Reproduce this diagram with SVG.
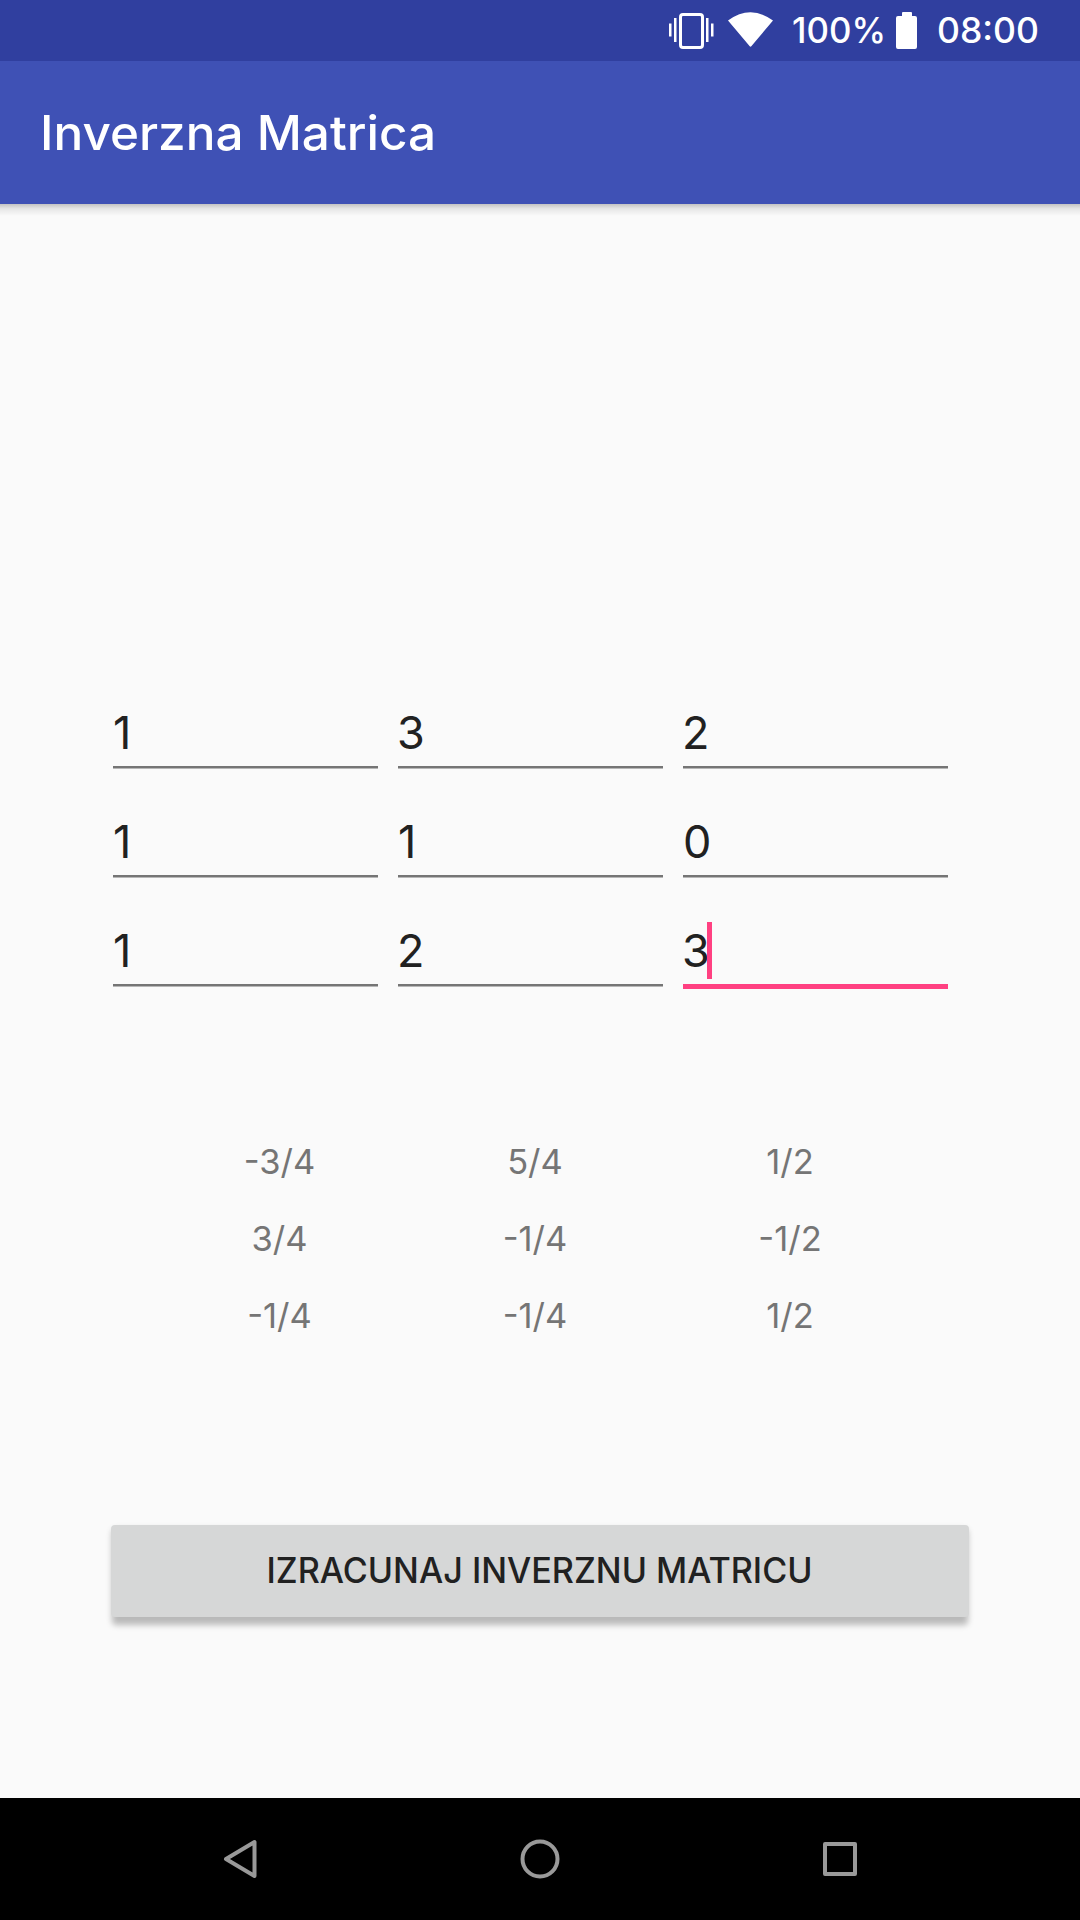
<svg xmlns="http://www.w3.org/2000/svg" width="1080" height="1920" viewBox="0 0 1080 1920">
  <style>
    text { font-family: "Inter", "Roboto", "Liberation Sans", sans-serif; }
    .status { fill: #ffffff; font-size: 35px; font-weight: 500; }
    .title { fill: #ffffff; font-size: 48px; font-weight: 500; }
    .input { fill: #212121; font-size: 45px; }
    .result { fill: #757575; font-size: 34.500px; text-anchor: middle; }
    .btn { fill: #212121; font-size: 35px; font-weight: 500; }
    .line { fill: #757575; }
    .nav { fill: none; stroke: #999999; stroke-width: 4; stroke-linejoin: round; }
  </style>
  <defs>
    <linearGradient id="barShadow" x1="0" y1="0" x2="0" y2="1">
      <stop offset="0" stop-color="#000000" stop-opacity="0.22"/>
      <stop offset="0.4" stop-color="#000000" stop-opacity="0.08"/>
      <stop offset="1" stop-color="#000000" stop-opacity="0"/>
    </linearGradient>
    <filter id="btnShadow" x="-5%" y="-20%" width="110%" height="150%">
      <feGaussianBlur stdDeviation="3"/>
    </filter>
  </defs>

  <rect id="background" width="1080" height="1920" fill="#fafafa"/>

  <g id="app-bar">
    <rect x="0" y="204" width="1080" height="12" fill="url(#barShadow)"/>
    <rect x="0" y="61" width="1080" height="143" fill="#3f51b5"/>
    <text class="title" x="40" y="150" textLength="396" lengthAdjust="spacingAndGlyphs">Inverzna Matrica</text>
  </g>

  <g id="status-bar">
    <rect x="0" y="0" width="1080" height="61" fill="#303f9f"/>
    <g id="icon-vibrate" fill="#ffffff">
      <rect x="680.500" y="14.500" width="22" height="33" rx="2.500" fill="none" stroke="#ffffff" stroke-width="3"/>
      <rect x="669" y="23.500" width="2.500" height="13"/>
      <rect x="674" y="18" width="2.500" height="24"/>
      <rect x="706" y="18" width="2.500" height="24"/>
      <rect x="711" y="23.500" width="2.500" height="13"/>
    </g>
    <path id="icon-wifi" d="M728 20.500 Q750.500 4 773 20.500 L751.500 46 Q750.500 47.500 749.500 46 Z" fill="#ffffff"/>
    <text class="status" x="792" y="43" textLength="94" lengthAdjust="spacingAndGlyphs">100%</text>
    <path id="icon-battery" d="M902 16 V13 Q902 12 903 12 H911 Q912 12 912 13 V16 H915 Q917 16 917 18 V47 Q917 49 915 49 H898 Q896 49 896 47 V18 Q896 16 898 16 Z" fill="#ffffff"/>
    <text class="status" x="937" y="43" textLength="102" lengthAdjust="spacingAndGlyphs">08:00</text>
  </g>

  <g id="input-matrix">
    <g id="cell-1-1"><text class="input" x="113" y="749">1</text><rect class="line" x="113" y="766" width="265" height="2.500"/></g>
    <g id="cell-1-2"><text class="input" x="397" y="749">3</text><rect class="line" x="398" y="766" width="265" height="2.500"/></g>
    <g id="cell-1-3"><text class="input" x="682" y="749">2</text><rect class="line" x="683" y="766" width="265" height="2.500"/></g>
    <g id="cell-2-1"><text class="input" x="113" y="858">1</text><rect class="line" x="113" y="875" width="265" height="2.500"/></g>
    <g id="cell-2-2"><text class="input" x="398" y="858">1</text><rect class="line" x="398" y="875" width="265" height="2.500"/></g>
    <g id="cell-2-3"><text class="input" x="683" y="858">0</text><rect class="line" x="683" y="875" width="265" height="2.500"/></g>
    <g id="cell-3-1"><text class="input" x="113" y="967">1</text><rect class="line" x="113" y="984" width="265" height="2.500"/></g>
    <g id="cell-3-2"><text class="input" x="397" y="967">2</text><rect class="line" x="398" y="984" width="265" height="2.500"/></g>
    <g id="cell-3-3">
      <text class="input" x="682" y="967">3</text>
      <rect x="707" y="922" width="5" height="57" fill="#ff4081"/>
      <rect x="683" y="984" width="265" height="5" fill="#ff4081"/>
    </g>
  </g>

  <g id="result-matrix">
    <text class="result" x="279.500" y="1174">-3/4</text>
    <text class="result" x="535" y="1174">5/4</text>
    <text class="result" x="790" y="1174">1/2</text>
    <text class="result" x="279.500" y="1251">3/4</text>
    <text class="result" x="535" y="1251">-1/4</text>
    <text class="result" x="790" y="1251">-1/2</text>
    <text class="result" x="279.500" y="1328">-1/4</text>
    <text class="result" x="535" y="1328">-1/4</text>
    <text class="result" x="790" y="1328">1/2</text>
  </g>

  <g id="button">
    <rect x="112" y="1529" width="856" height="96" rx="4" fill="#000000" opacity="0.26" filter="url(#btnShadow)"/>
    <rect x="111" y="1525" width="858" height="92" rx="4" fill="#d6d7d7"/>
    <text class="btn" x="266.500" y="1583" textLength="546" lengthAdjust="spacingAndGlyphs">IZRACUNAJ INVERZNU MATRICU</text>
  </g>

  <g id="navigation-bar">
    <rect x="0" y="1798" width="1080" height="122" fill="#000000"/>
    <path class="nav" d="M254.500 1842 V1876 L226 1859 Z"/>
    <circle class="nav" cx="540" cy="1859" r="17.500"/>
    <rect class="nav" x="825" y="1844" width="30" height="30"/>
  </g>
</svg>
